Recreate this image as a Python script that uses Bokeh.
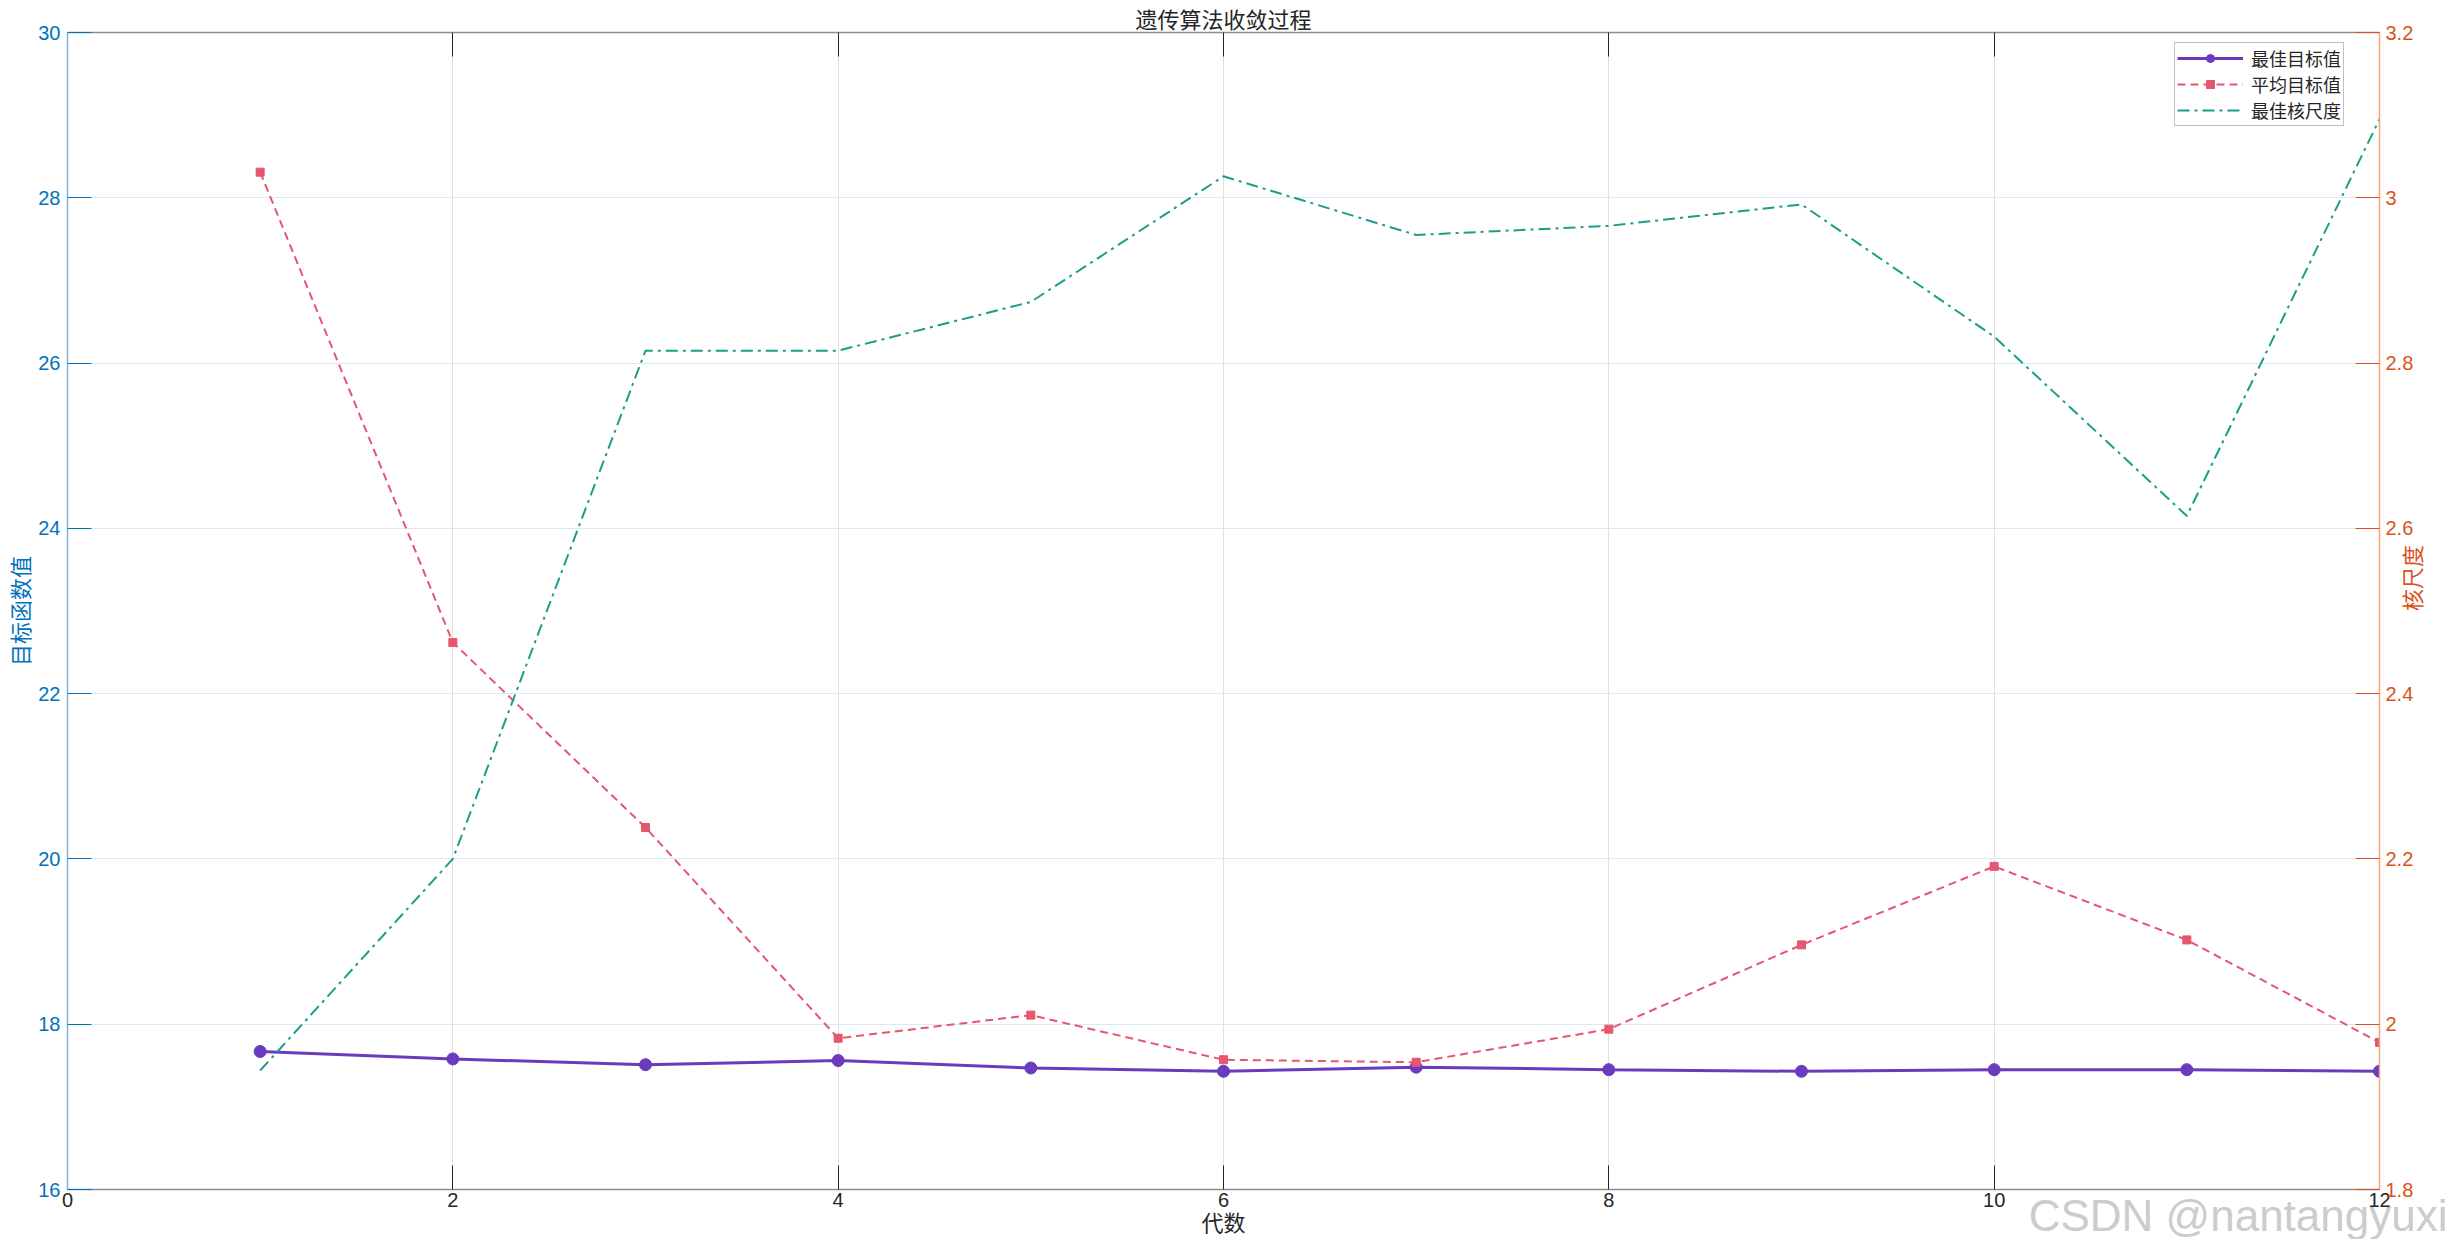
import math
from bokeh.plotting import figure
from bokeh.models import (Range1d, LinearAxis, FixedTicker, Legend, LegendItem,
                          Grid, Title)
from bokeh.embed import file_html
from bokeh.resources import INLINE

# ---------------- data ----------------
generations = [1, 2, 3, 4, 5, 6, 7, 8, 9, 10, 11, 12]
best_obj = [17.67, 17.58, 17.51, 17.56, 17.47, 17.43, 17.48, 17.45, 17.43, 17.45, 17.45, 17.43]
mean_obj = [28.31, 22.62, 20.38, 17.83, 18.11, 17.57, 17.54, 17.94, 18.96, 19.91, 19.02, 17.78]
best_kernel = [1.944, 2.200, 2.815, 2.815, 2.874, 3.026, 2.955, 2.966, 2.992, 2.832, 2.615, 3.095]

x_ticks = [0, 2, 4, 6, 8, 10, 12]
left_ticks = [16, 18, 20, 22, 24, 26, 28, 30]
right_ticks = [1.8, 2.0, 2.2, 2.4, 2.6, 2.8, 3.0, 3.2]
right_tick_labels = ["1.8", "2", "2.2", "2.4", "2.6", "2.8", "3", "3.2"]

title_text = "遗传算法收敛过程"
x_label = "代数"
left_label = "目标函数值"
right_label = "核尺度"
series_names = ["最佳目标值", "平均目标值", "最佳核尺度"]
watermark = "CSDN @nantangyuxi"

# ---------------- style ----------------
CJK = "Noto Sans CJK SC"
NUM = "Liberation Sans"
BLUE = "#0072BD"
BLUE_LIGHT = "#80B5E0"
ORANGE = "#D95319"
ORANGE_LIGHT = "#F2A57E"
PURPLE = "#6A3BBE"
RED = "#E5566F"
GREEN = "#1A9E8B"

p = figure(width=2446, height=1239, output_backend="svg", toolbar_location=None,
           x_range=Range1d(0, 12), y_range=Range1d(16, 30),
           x_axis_location=None, y_axis_location=None,
           min_border_left=66, min_border_right=40, min_border_top=30, min_border_bottom=40)
p.extra_y_ranges = {"kernel": Range1d(1.8, 3.2)}
p.outline_line_color = None
p.background_fill_color = "white"
p.border_fill_color = "white"

p.title = Title(text=title_text, align="center", text_font=CJK, text_font_size="22px",
                text_font_style="normal", text_color="#262626", standoff=-2)


def style_axis(ax, line_color, tick_color, label_color):
    ax.axis_line_color = line_color
    ax.axis_line_width = 1.5
    ax.major_tick_line_color = tick_color
    ax.major_tick_in = 24
    ax.major_tick_out = 0
    ax.minor_tick_line_color = None
    ax.major_label_text_color = label_color
    ax.major_label_text_font = NUM
    ax.major_label_text_font_size = "20px"
    ax.axis_label_text_font = CJK
    ax.axis_label_text_font_size = "22px"
    ax.axis_label_text_font_style = "normal"
    ax.axis_label_text_color = label_color


bottom = LinearAxis(ticker=FixedTicker(ticks=x_ticks), axis_label=x_label)
style_axis(bottom, "#8C8C8C", "#262626", "#262626")
bottom.major_label_standoff = 3
bottom.axis_label_standoff = -5
p.add_layout(bottom, "below")

top = LinearAxis(ticker=FixedTicker(ticks=x_ticks))
style_axis(top, "#8C8C8C", "#262626", "#262626")
top.major_label_overrides = {t: "" for t in x_ticks}
top.major_label_standoff = 0
p.add_layout(top, "above")

left = LinearAxis(ticker=FixedTicker(ticks=left_ticks), axis_label=left_label)
style_axis(left, BLUE_LIGHT, BLUE, BLUE)
left.major_label_standoff = 7
left.axis_label_standoff = 0
p.add_layout(left, "left")

right = LinearAxis(y_range_name="kernel", ticker=FixedTicker(ticks=right_ticks),
                   axis_label=right_label)
style_axis(right, ORANGE_LIGHT, ORANGE, ORANGE)
right.major_label_overrides = {t: s for t, s in zip(right_ticks, right_tick_labels)}
right.major_label_standoff = 6
right.axis_label_standoff = -5
right.axis_label_orientation = math.pi / 2
p.add_layout(right, "right")

p.add_layout(Grid(dimension=0, ticker=FixedTicker(ticks=x_ticks),
                  grid_line_color="#E0E0E0", grid_line_width=1))
p.add_layout(Grid(dimension=1, ticker=FixedTicker(ticks=left_ticks),
                  grid_line_color="#D8EAF6", grid_line_width=1))

# ---------------- series ----------------
l1 = p.line(generations, best_obj, line_color=PURPLE, line_width=3)
m1 = p.scatter(generations, best_obj, marker="circle", size=12,
               fill_color=PURPLE, line_color=PURPLE)
l2 = p.line(generations, mean_obj, line_color=RED, line_width=2, line_dash="8 5")
m2 = p.scatter(generations, mean_obj, marker="square", size=8,
               fill_color=RED, line_color=RED)
l3 = p.line(generations, best_kernel, y_range_name="kernel", line_color=GREEN,
            line_width=2, line_dash="12 5 3 5")

legend = Legend(items=[
    LegendItem(label=series_names[0], renderers=[l1, m1]),
    LegendItem(label=series_names[1], renderers=[l2, m2]),
    LegendItem(label=series_names[2], renderers=[l3]),
], location=(2107, 1063))
legend.label_text_font = CJK
legend.label_text_font_size = "18px"
legend.label_text_color = "#262626"
legend.glyph_width = 66
legend.glyph_height = 20
legend.label_height = 20
legend.label_standoff = 8
legend.spacing = -2
legend.padding = 2
legend.margin = 0
legend.border_line_color = "#808080"
legend.border_line_width = 1.5
legend.background_fill_color = "white"
legend.background_fill_alpha = 1
p.add_layout(legend, "center")

# watermark: a zero-height title below the x axis (second blank line lifts it up)
wm = Title(text=watermark + "\n ", align="right", vertical_align="middle",
           text_font=NUM, text_font_size="44px", text_font_style="normal",
           text_color="#CCCCCC", standoff=-100, offset=-68)
p.add_layout(wm, "below")

open("out.html", "w").write(file_html(p, INLINE))
